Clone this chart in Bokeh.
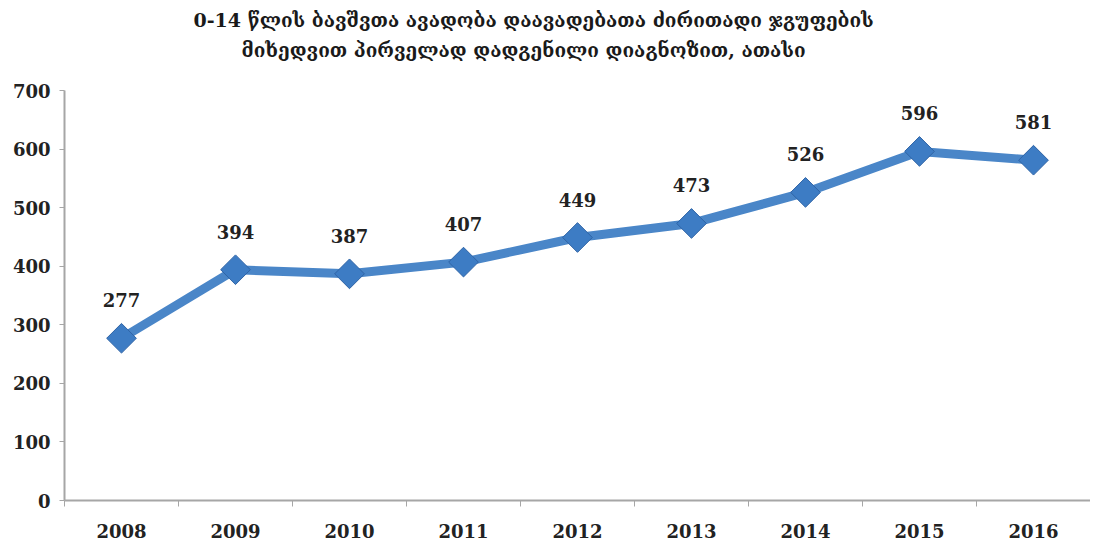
import math
from bokeh.plotting import figure
from bokeh.models import Title, FixedTicker, ColumnDataSource, Range1d
from bokeh.core.properties import value
from bokeh.embed import file_html
from bokeh.resources import INLINE

years = ["2008", "2009", "2010", "2011", "2012", "2013", "2014", "2015", "2016"]
values = [277, 394, 387, 407, 449, 473, 526, 596, 581]
title_line1 = "0-14 წლის ბავშვთა ავადობა დაავადებათა ძირითადი ჯგუფების"
title_line2 = "მიხედვით პირველად დადგენილი დიაგნოზით, ათასი"
y_ticks = [0, 100, 200, 300, 400, 500, 600, 700]

xs = [i + 0.5 for i in range(len(years))]
src = ColumnDataSource(dict(x=xs, y=values, lab=[str(v) for v in values]))

p = figure(width=1090, height=540, output_backend="svg", toolbar_location=None,
           x_range=Range1d(0, len(years)), y_range=Range1d(0, 700),
           min_border_left=64, min_border_right=0, min_border_bottom=40, min_border_top=90)
p.outline_line_color = None
p.xgrid.visible = False
p.ygrid.visible = False
p.background_fill_color = "white"
p.border_fill_color = "white"

FONT = "DejaVu Serif"

# spacer between frame and the two title lines
for t, so, off in [(" ", 5, 0), (title_line2, 2, 177), (title_line1, 10, 129)]:
    ti = Title(text=t, align="left", offset=off, text_font=FONT,
               text_font_style="bold", text_font_size="19px", text_color="#1a1a1a",
               standoff=so)
    p.add_layout(ti, "above")

p.line("x", "y", source=src, line_color="#4a86c8", line_width=9)
p.scatter("x", "y", source=src, marker="square", angle=math.pi / 4, size=21,
          fill_color="#3d7cc4", line_color="#2f64a6", line_width=1)
p.text("x", "y", text="lab", source=src, text_align="center", text_baseline="middle",
       y_offset=-38, text_font=value(FONT), text_font_style="bold",
       text_font_size="18px", text_color="#222222")

ax = p.xaxis[0]
ax.ticker = FixedTicker(ticks=xs, minor_ticks=list(range(len(years) + 1)))
ax.major_label_overrides = {x: y for x, y in zip(xs, years)}
ax.major_tick_line_color = None
ax.minor_tick_line_color = "#a6a6a6"
ax.minor_tick_out = 6
ax.minor_tick_in = 0
ax.axis_line_color = "#a6a6a6"
ax.axis_line_width = 2
ax.major_label_standoff = 17
ax.major_label_text_font = FONT
ax.major_label_text_font_style = "bold"
ax.major_label_text_font_size = "18px"
ax.major_label_text_color = "#222222"

ay = p.yaxis[0]
ay.ticker = FixedTicker(ticks=y_ticks)
ay.minor_tick_line_color = None
ay.major_tick_line_color = "#a6a6a6"
ay.major_tick_out = 5
ay.major_tick_in = 0
ay.axis_line_color = "#a6a6a6"
ay.axis_line_width = 2
ay.major_label_standoff = 9
ay.major_label_text_font = FONT
ay.major_label_text_font_style = "bold"
ay.major_label_text_font_size = "18px"
ay.major_label_text_color = "#222222"

open("out.html", "w").write(file_html(p, INLINE))
